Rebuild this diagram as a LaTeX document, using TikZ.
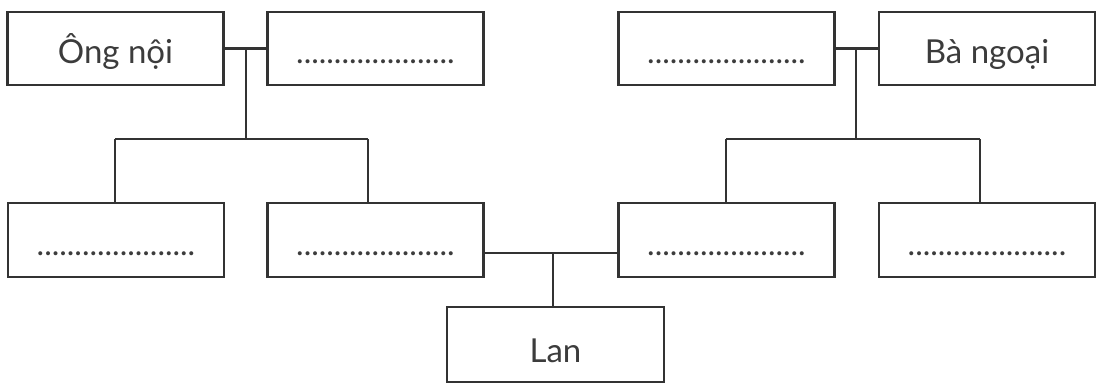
\documentclass[tikz,border=0pt]{standalone}
\usepackage{fontspec}
\setmainfont{Lato}
\definecolor{ink}{HTML}{333333}
\definecolor{txt}{HTML}{3C3C3C}
\tikzset{
  box/.style={draw=ink, line width=2.4pt, minimum width=216pt, minimum height=73pt, inner sep=0pt},
  lanbox/.style={draw=ink, line width=2.4pt, minimum width=217pt, minimum height=75pt, inner sep=0pt},
  lbl/.style={anchor=base, inner sep=0pt, text=txt, font=\fontsize{33}{36}\selectfont},
  dots/.style={anchor=base, inner sep=0pt, text=txt, font=\fontsize{32}{36}\selectfont},
  wire/.style={draw=ink, line width=2.4pt}
}
\begin{document}
\begin{tikzpicture}[x=1pt, y=-1pt]
\useasboundingbox (0,0) rectangle (1096,383);
% row 1
\node[box] (A) at (115.5,48.5) {};
\node[box] (B) at (375.5,48.5) {};
\node[box] (C) at (726.5,48.5) {};
\node[box] (D) at (987,48.5) {};
% row 2
\node[box, minimum height=74pt] (E) at (116,240) {};
\node[box, minimum height=74pt] (F) at (375.5,240) {};
\node[box, minimum height=74pt] (G) at (726.5,240) {};
\node[box, minimum height=74pt] (H) at (987,240) {};
% Lan
\node[lanbox] (L) at (555.5,344.5) {};
% labels
\node[lbl] (tA) at (115.5,63) {Ông nội};
\node[dots] (tB) at (375.5,63) {.....................};
\node[dots] (tC) at (726.5,63) {.....................};
\node[lbl] (tD) at (987,63) {Bà ngoại};
\node[dots] (tE) at (116,255) {.....................};
\node[dots] (tF) at (375.5,255) {.....................};
\node[dots] (tG) at (726.5,255) {.....................};
\node[dots] (tH) at (987,255) {.....................};
\node[lbl] (tL) at (555.5,362) {Lan};
% left family
\coordinate (jl) at (246,48.5);
\coordinate (jlb) at (246,139);
\coordinate (ll) at (115,139);
\coordinate (lr) at (368,139);
\draw[wire] (A.east) -- (B.west);
\draw[wire] (jl) -- (jlb);
\draw[wire] (ll) -- (lr);
\draw[wire] (ll) -- (ll |- E.north);
\draw[wire] (lr) -- (lr |- F.north);
% right family
\coordinate (jr) at (856,48.5);
\coordinate (jrb) at (856,139);
\coordinate (rl) at (726,139);
\coordinate (rr) at (980,139);
\draw[wire] (C.east) -- (D.west);
\draw[wire] (jr) -- (jrb);
\draw[wire] (rl) -- (rr);
\draw[wire] (rl) -- (rl |- G.north);
\draw[wire] (rr) -- (rr |- H.north);
% parents of Lan
\coordinate (pl) at (F.east |- 0,253);
\coordinate (pr) at (G.west |- 0,253);
\coordinate (pm) at (553,253);
\draw[wire] (pl) -- (pr);
\draw[wire] (pm) -- (pm |- L.north);
\end{tikzpicture}
\end{document}
